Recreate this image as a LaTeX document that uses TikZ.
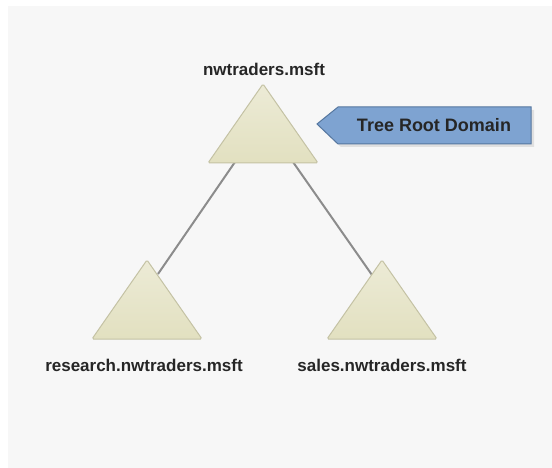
\documentclass[tikz,border=0pt]{standalone}
\usepackage{fontspec}
\setmainfont{Liberation Sans}
\usepackage{tikz}
\usetikzlibrary{calc,positioning}

\definecolor{paper}{HTML}{F7F7F7}
\definecolor{trifill}{HTML}{E2E0C0}
\definecolor{triedge}{HTML}{C4C2A4}
\definecolor{linkgray}{HTML}{8C8C8C}
\definecolor{tagfill}{HTML}{7EA3D1}
\definecolor{tagedge}{HTML}{56779F}

\begin{document}
\begin{tikzpicture}[
        x=1pt,y=-1pt,
        dombox/.style={draw=triedge,line width=1pt,rounded corners=1.5pt,
            top color=trifill!65!white,bottom color=trifill},
        link/.style={draw=linkgray,line width=2pt},
        tagbox/.style={draw=tagedge,line width=1pt,fill=tagfill},
        domname/.style={font=\bfseries\fontsize{17}{20}\selectfont,text=black!85,anchor=base,inner sep=0pt}
    ]
    \useasboundingbox (0,0) rectangle (552,468);
    \fill[paper] (8,6) rectangle (552,468);

    % line ends on the triangle edges
    \coordinate (rootL) at (235,162);
    \coordinate (rootR) at (293,162);
    \coordinate (resTop) at (158,274);
    \coordinate (salesTop) at (372,275);

    \draw[link] (rootL) -- (resTop);
    \draw[link] (rootR) -- (salesTop);

    % domains
    \coordinate (root) at (263,84);
    \coordinate (research) at (147,260);
    \coordinate (sales) at (382,260);
    \foreach \t in {root,research,sales}
        \path[dombox] (\t) -- ++(55,79) -- ++(-110,0) -- cycle;

    \node[domname] (rootname) at (264,76) {nwtraders.msft};
    \node[domname] (resname) at (144,371) {research.nwtraders.msft};
    \node[domname] (salesname) at (382,371) {sales.nwtraders.msft};

    % callout
    \fill[black!12] (320,127) -- (341,110) -- (534,110) -- (534,147) -- (341,147) -- cycle;
    \path[tagbox] (317,124) -- (338,107) -- (531,107) -- (531,144) -- (338,144) -- cycle;
    \node[domname,font=\bfseries\fontsize{18}{21}\selectfont] (tag) at (434,132) {Tree Root Domain};
\end{tikzpicture}
\end{document}
